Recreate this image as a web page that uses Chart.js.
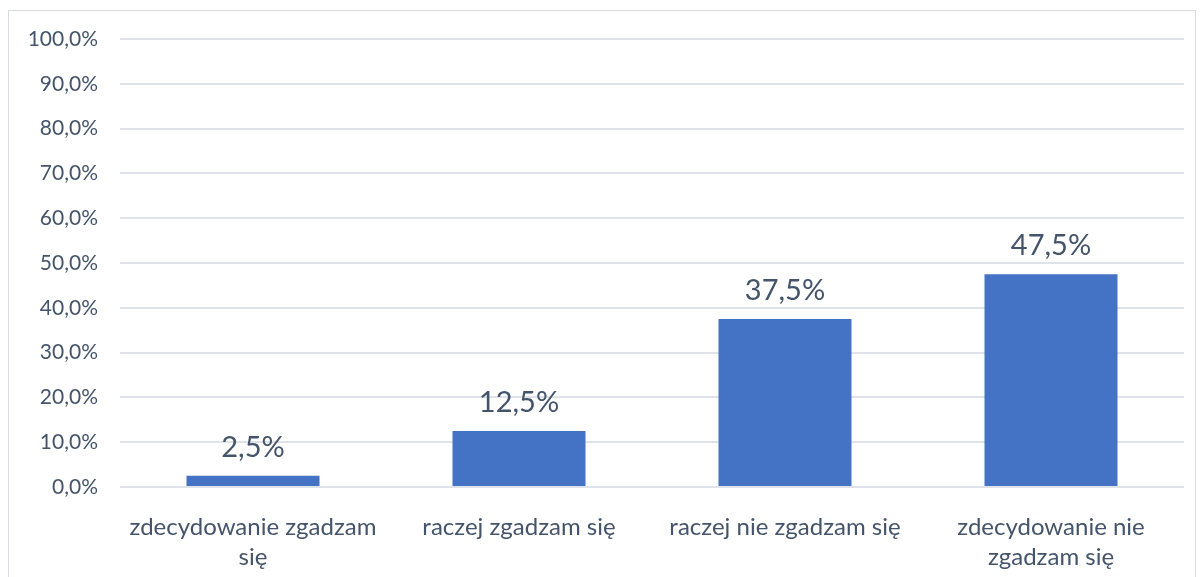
<!DOCTYPE html>
<html>
<head>
<meta charset="utf-8">
<script src="https://cdn.jsdelivr.net/npm/chart.js@4/dist/chart.umd.min.js"></script>
<style>
  body { margin: 0; background: #fff; }
  #wrap { position: relative; width: 1200px; height: 577px; overflow: hidden; }
  #frame { position: absolute; left: 8px; top: 10px; width: 1188px; height: 600px; border: 1px solid #d9dde3; box-sizing: border-box; }
  canvas { position: absolute; left: 0; top: 0; }
</style>
</head>
<body>
<div id="wrap">
  <div id="frame"></div>
  <canvas id="chart" width="1200" height="577"></canvas>
</div>
<script>
const TEXT_COLOR = "#44546A";
const BAR_COLOR = "#4472C4";

const KATEGORIE = [
  ["zdecydowanie zgadzam", "się"],
  "raczej zgadzam się",
  "raczej nie zgadzam się",
  ["zdecydowanie nie", "zgadzam się"],
];

const WARTOSCI = [2.5, 12.5, 37.5, 47.5];

function fmt(v, dec) {
  return v.toFixed(dec).replace(".", ",") + "%";
}

// etykiety nad słupkami
const etykiety = {
  id: "etykiety",
  afterDatasetsDraw(chart) {
    const ctx = chart.ctx;
    const meta = chart.getDatasetMeta(0);
    ctx.save();
    ctx.font = "29px Lato";
    ctx.fillStyle = TEXT_COLOR;
    ctx.textAlign = "center";
    ctx.textBaseline = "alphabetic";
    meta.data.forEach((bar, i) => {
      ctx.fillText(fmt(WARTOSCI[i], 1), bar.x, bar.y - 19);
    });
    ctx.restore();
  }
};

new Chart(document.getElementById("chart"), {
  type: "bar",
  data: {
    labels: KATEGORIE,
    datasets: [{
      data: WARTOSCI,
      backgroundColor: BAR_COLOR,
      categoryPercentage: 1.0,
      barPercentage: 0.5,
    }]
  },
  options: {
    responsive: false,
    animation: false,
    layout: { padding: { left: 0, top: 39, right: 16, bottom: 0 } },
    plugins: { legend: { display: false }, tooltip: { enabled: false } },
    scales: {
      x: {
        afterFit: (s) => { s.height = 90; },
        grid: { display: false },
        border: { display: false },
        ticks: {
          color: TEXT_COLOR,
          font: { family: "Lato", size: 24, lineHeight: 1.25 },
          padding: 17,
          maxRotation: 0,
        }
      },
      y: {
        min: 0,
        max: 100,
        afterFit: (s) => { s.width = 120; },
        grid: { color: "#dfe3e9", lineWidth: 2, drawTicks: false },
        border: { display: false },
        ticks: {
          stepSize: 10,
          color: TEXT_COLOR,
          font: { family: "Lato", size: 21 },
          padding: 22,
          callback: (v) => fmt(v, 1),
        }
      }
    }
  },
  plugins: [etykiety]
});
</script>
</body>
</html>
